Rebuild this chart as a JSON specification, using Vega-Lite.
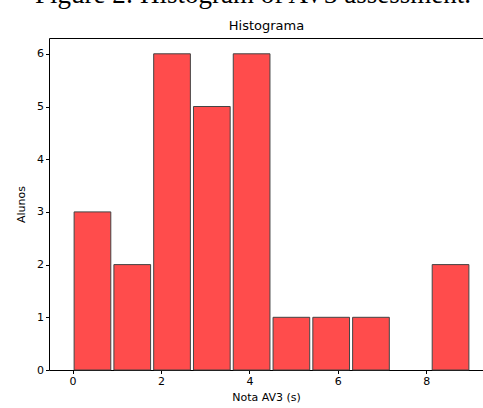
{
  "$schema": "https://vega.github.io/schema/vega-lite/v6.json",
  "autosize": "none",
  "width": 434,
  "height": 332,
  "padding": {"left": 49, "top": 38, "right": 0, "bottom": 38},
  "background": "white",
  "config": {
    "font": "DejaVu Sans",
    "view": {"stroke": "black", "strokeWidth": 1},
    "axis": {"grid": false, "domain": false, "tickColor": "black", "labelColor": "black", "titleColor": "black", "labelFontSize": 11, "titleFontSize": 11, "titleFontWeight": "normal", "tickSize": 3.5, "labelPadding": 2}
  },
  "title": {
    "text": "Figure 2: Histogram of AV3 assessment.",
    "font": "Liberation Serif",
    "fontSize": 27,
    "fontWeight": "normal",
    "color": "black",
    "anchor": "middle",
    "dx": -13,
    "offset": 10
  },
  "data": {
    "values": [
      {"center": 0.45, "count": 3},
      {"center": 1.35, "count": 2},
      {"center": 2.25, "count": 6},
      {"center": 3.15, "count": 5},
      {"center": 4.05, "count": 6},
      {"center": 4.95, "count": 1},
      {"center": 5.85, "count": 1},
      {"center": 6.75, "count": 1},
      {"center": 7.65, "count": 0},
      {"center": 8.55, "count": 2}
    ]
  },
  "layer": [
    {
      "transform": [{"filter": "datum.count > 0"}],
      "mark": {"type": "bar", "width": 36.7, "fill": "#ff4c4c", "stroke": "#444444", "strokeWidth": 1},
      "encoding": {
        "x": {"field": "center", "type": "quantitative", "scale": {"domain": [-0.42, 9.171], "nice": false, "zero": false}, "axis": {"values": [0, 2, 4, 6, 8], "title": "Nota AV3 (s)", "titlePadding": 5}},
        "y": {"field": "count", "type": "quantitative", "scale": {"domain": [0, 6.3], "nice": false}, "axis": {"values": [0, 1, 2, 3, 4, 5, 6], "title": "Alunos", "titlePadding": 10}}
      }
    },
    {
      "mark": {"type": "tick", "opacity": 0},
      "encoding": {
        "x": {"field": "center", "type": "quantitative", "axis": {"orient": "top", "title": "Histograma", "titleFontSize": 13, "labels": false, "ticks": false, "titlePadding": 6}}
      }
    }
  ],
  "resolve": {"axis": {"x": "independent"}}
}
